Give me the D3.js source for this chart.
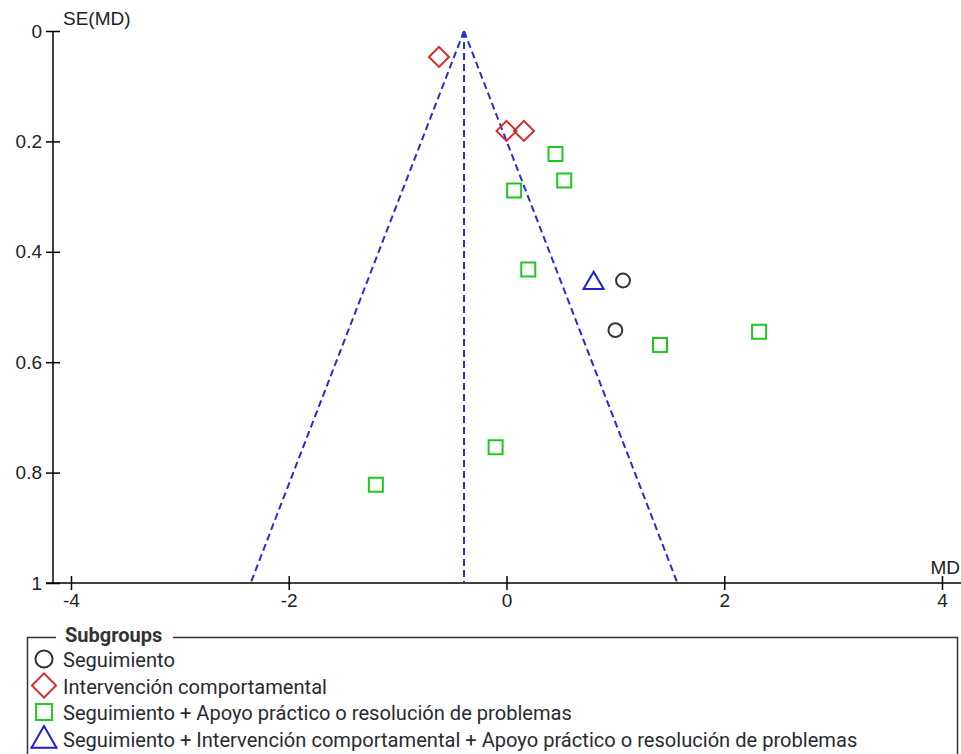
<!DOCTYPE html>
<html>
<head>
<meta charset="utf-8">
<script src="https://cdn.jsdelivr.net/npm/d3@7"></script>
<style>
  html, body { margin: 0; padding: 0; background: #fff; }
  svg { display: block; }
</style>
</head>
<body>
<svg id="chart" width="961" height="754"></svg>
<script>
// Funnel plot: standard error of the mean difference vs mean difference, by subgroup
const subgroupNames = [
  "Seguimiento",
  "Intervención comportamental",
  "Seguimiento + Apoyo práctico o resolución de problemas",
  "Seguimiento + Intervención comportamental + Apoyo práctico o resolución de problemas"
];
const seguimientoMD = [1.07, 1.00];
const seguimientoSE = [0.452, 0.542];
const comportamentalMD = [-0.62, 0.00, 0.16];
const comportamentalSE = [0.047, 0.181, 0.181];
const apoyoMD = [0.45, 0.53, 0.07, 0.20, 1.41, 2.32, -0.10, -1.20];
const apoyoSE = [0.223, 0.271, 0.289, 0.432, 0.569, 0.545, 0.754, 0.822];
const combinadoMD = [0.80];
const combinadoSE = [0.457];
const pooledMD = -0.39;
const xTicks = [-4, -2, 0, 2, 4];
const yTicks = [0, 0.2, 0.4, 0.6, 0.8, 1];
const xTickLabels = ["-4", "-2", "0", "2", "4"];
const yTickLabels = ["0", "0.2", "0.4", "0.6", "0.8", "1"];
const xTitle = "MD";
const yTitle = "SE(MD)";
const legendTitle = "Subgroups";

const svg = d3.select("#chart");
const x = d3.scaleLinear().domain([-4, 4]).range([71, 942]);
const y = d3.scaleLinear().domain([0, 1]).range([31, 583]);
const axisFont = "'Liberation Sans', Arial, sans-serif";
const textFont = "Roboto, 'Liberation Sans', Arial, sans-serif";

// Marker styles per subgroup
const styles = [
  { type: d3.symbolCircle, rot: 0, color: "#333333", size: 150, lsize: 230 },
  { type: d3.symbolSquare, rot: 45, color: "#d42c2c", size: 200, lsize: 290 },
  { type: d3.symbolSquare, rot: 0, color: "#1ec81e", size: 196, lsize: 250 },
  { type: d3.symbolTriangle, rot: 0, color: "#2020d0", size: 175, lsize: 270 }
];

const groups = [
  { md: seguimientoMD, se: seguimientoSE },
  { md: comportamentalMD, se: comportamentalSE },
  { md: apoyoMD, se: apoyoSE },
  { md: combinadoMD, se: combinadoSE }
];

// Axes
const gx = svg.append("g").attr("transform", `translate(0,${y(1)})`)
  .call(d3.axisBottom(x).tickValues(xTicks).tickFormat((d, i) => xTickLabels[i]).tickSize(7).tickPadding(3));
gx.select(".domain").remove();
gx.selectAll(".tick line").attr("y1", -7).attr("y2", 7).attr("stroke", "#000").attr("stroke-width", 1.5);
gx.selectAll(".tick text").attr("font-family", axisFont).attr("font-size", 19).attr("fill", "#222")
  .attr("y", 11).attr("dy", "0.71em");
gx.append("line").attr("x1", 46).attr("x2", 961).attr("y1", 0).attr("y2", 0)
  .attr("stroke", "#000").attr("stroke-width", 1.5);

const gy = svg.append("g").attr("transform", `translate(53,0)`)
  .call(d3.axisLeft(y).tickValues(yTicks).tickFormat((d, i) => yTickLabels[i]).tickSize(7).tickPadding(4));
gy.select(".domain").remove();
gy.selectAll(".tick line").attr("x1", -7).attr("x2", 7).attr("stroke", "#000").attr("stroke-width", 1.5);
gy.selectAll(".tick text").attr("font-family", axisFont).attr("font-size", 19).attr("fill", "#222").attr("x", -11);
gy.append("line").attr("x1", 0).attr("x2", 0).attr("y1", y(0)).attr("y2", y(1))
  .attr("stroke", "#000").attr("stroke-width", 1.5);

svg.append("text").attr("x", 63).attr("y", 25).attr("font-family", axisFont).attr("font-size", 19)
  .attr("fill", "#222").text(yTitle);
svg.append("text").attr("x", 960).attr("y", 574).attr("text-anchor", "end").attr("font-family", axisFont)
  .attr("font-size", 19).attr("fill", "#222").text(xTitle);

// Funnel: pooled estimate and 95% limits
const funnelColor = "#2a2ad8";
const funnel = svg.append("g").attr("fill", "none").attr("stroke", funnelColor)
  .attr("stroke-width", 2).attr("stroke-dasharray", "7,4");
funnel.append("line").attr("x1", x(pooledMD)).attr("y1", y(0)).attr("x2", x(pooledMD)).attr("y2", y(1));
funnel.append("line").attr("x1", x(pooledMD)).attr("y1", y(0)).attr("x2", x(pooledMD - 1.96)).attr("y2", y(1));
funnel.append("line").attr("x1", x(pooledMD)).attr("y1", y(0)).attr("x2", x(pooledMD + 1.96)).attr("y2", y(1));

// Study markers
groups.forEach((g, i) => {
  const st = styles[i];
  const sym = d3.symbol().type(st.type).size(st.size);
  svg.append("g").selectAll("path").data(g.md.map((m, k) => [m, g.se[k]])).join("path")
    .attr("d", sym)
    .attr("transform", d => `translate(${x(d[0])},${y(d[1])}) rotate(${st.rot})`)
    .attr("fill", "none").attr("stroke", st.color).attr("stroke-width", 2);
});

// Legend
const lg = svg.append("g");
lg.append("path").attr("d", "M56,637.5 H27.5 V760 M173,637.5 H957.5 V760")
  .attr("fill", "none").attr("stroke", "#333").attr("stroke-width", 1.5);
lg.append("text").attr("x", 65).attr("y", 642).attr("font-family", textFont).attr("font-weight", "bold")
  .attr("font-size", 20).attr("fill", "#333").text(legendTitle);
subgroupNames.forEach((name, i) => {
  const st = styles[i];
  const cy = 659 + i * 26.5;
  lg.append("path").attr("d", d3.symbol().type(st.type).size(st.lsize))
    .attr("transform", `translate(44,${cy + (i === 3 ? 2 : 0)}) rotate(${st.rot})`)
    .attr("fill", "none").attr("stroke", st.color).attr("stroke-width", 2);
  lg.append("text").attr("x", 63).attr("y", cy + 8).attr("font-family", textFont)
    .attr("font-size", 20.1).attr("fill", "#2a2a33").text(name);
});
</script>
</body>
</html>
